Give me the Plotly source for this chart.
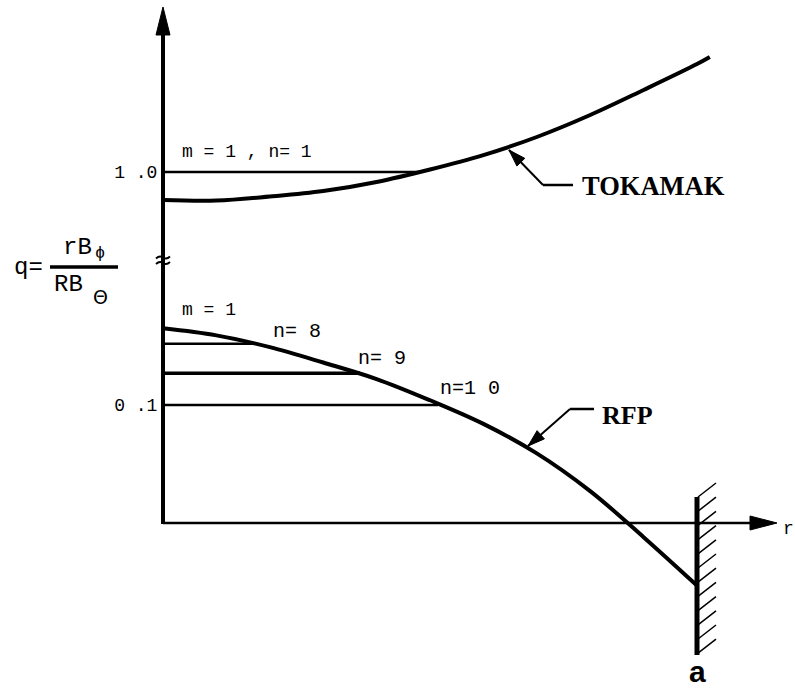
import plotly.graph_objects as go

W, H = 795, 688

# ---------------- data ----------------
# r / a  (wall at r = a = 1)
tok_r = [0.0, 0.1, 0.2, 0.3, 0.4, 0.5, 0.6, 0.7, 0.8, 0.9, 1.0, 1.024]
tok_q = [0.800, 0.796, 0.825, 0.864, 0.929, 1.018, 1.121, 1.250, 1.407, 1.586, 1.771, 1.821]

rfp_r = [0.0, 0.1, 0.2, 0.3, 0.4, 0.5, 0.6, 0.7, 0.8, 0.9, 1.0]
rfp_q = [0.165, 0.159, 0.149, 0.136, 0.122, 0.104, 0.084, 0.059, 0.027, -0.012, -0.053]

tok_res_label = "m = 1 , n= 1"
tok_res_q = 1.0
tok_res_r = 0.481

rfp_m_label = "m = 1"
rfp_res_labels = ["n= 8", "n= 9", "n=1 0"]
rfp_res_q = [0.152, 0.127, 0.100]
rfp_res_r = [0.176, 0.369, 0.515]

upper_tick_vals = [1.0]
upper_tick_text = ["1 .0"]
lower_tick_vals = [0.1]
lower_tick_text = ["0 .1"]

# ---------------- geometry of the drawing ----------------
X0, XA = 163, 697          # pixel of r=0 and r=a
QL0, QL_S = 523, 1180      # lower part: pixel of q=0, px per unit q
QU1, QU_S = 172, 140       # upper part: pixel of q=1, px per unit q
BREAK = 262                # pixel row of the axis break

sx = XA - X0
x_range = [-X0 / sx, (W - X0) / sx]
yl_range = [(QL0 - H) / QL_S, (QL0 - BREAK) / QL_S]
yu_range = [1 + (QU1 - BREAK) / QU_S, 1 + QU1 / QU_S]
brk = 1 - BREAK / H


def px(x):
    return x / W


def py(y):
    return 1 - y / H


def seg(x1, y1, x2, y2, w, color="black"):
    return dict(type="line", xref="paper", yref="paper",
                x0=px(x1), y0=py(y1), x1=px(x2), y1=py(y2),
                line=dict(color=color, width=w), layer="above")


def tri(tip, tail, L, hw):
    tx, ty = tip
    bx, by = tail
    d = ((bx - tx) ** 2 + (by - ty) ** 2) ** 0.5
    ux, uy = (bx - tx) / d, (by - ty) / d
    nx, ny = -uy, ux
    cx, cy = tx + L * ux, ty + L * uy
    pts = [(tx, ty), (cx + hw * nx, cy + hw * ny), (cx - hw * nx, cy - hw * ny)]
    path = "M " + " L ".join(f"{px(a):.5f},{py(b):.5f}" for a, b in pts) + " Z"
    return dict(type="path", xref="paper", yref="paper", path=path,
                fillcolor="black", line=dict(color="black", width=1), layer="above")


fig = go.Figure()

# curves
fig.add_trace(go.Scatter(x=tok_r, y=tok_q, xaxis="x", yaxis="y2", mode="lines",
                         line=dict(color="black", width=4, shape="spline", smoothing=1.0),
                         hoverinfo="skip", showlegend=False))
fig.add_trace(go.Scatter(x=rfp_r, y=rfp_q, xaxis="x", yaxis="y", mode="lines",
                         line=dict(color="black", width=4, shape="spline", smoothing=1.0),
                         hoverinfo="skip", showlegend=False))

# resonant surfaces
fig.add_trace(go.Scatter(x=[0, tok_res_r], y=[tok_res_q, tok_res_q], xaxis="x", yaxis="y2",
                         mode="lines", line=dict(color="black", width=2.5),
                         hoverinfo="skip", showlegend=False))
res_w = [2.5, 3.5, 2.5]
for q, r, w in zip(rfp_res_q, rfp_res_r, res_w):
    fig.add_trace(go.Scatter(x=[0, r], y=[q, q], xaxis="x", yaxis="y",
                             mode="lines", line=dict(color="black", width=w),
                             hoverinfo="skip", showlegend=False))

mono = "Liberation Mono, Courier New, monospace"
ann = []
ann.append(dict(x=0, y=tok_res_q, xref="x", yref="y2", text=tok_res_label, showarrow=False,
                xanchor="left", yanchor="middle", xshift=17, yshift=20,
                font=dict(family=mono, size=18, color="black")))
ann.append(dict(x=0, y=rfp_q[0], xref="x", yref="y", text=rfp_m_label, showarrow=False,
                xanchor="left", yanchor="middle", xshift=17, yshift=18,
                font=dict(family=mono, size=18, color="black")))
shifts = [(14, 12), (-4, 15), (0, 17)]
for lab, q, r, (xs, ys) in zip(rfp_res_labels, rfp_res_q, rfp_res_r, shifts):
    ann.append(dict(x=r, y=q, xref="x", yref="y", text=lab, showarrow=False,
                    xanchor="left", yanchor="middle", xshift=xs, yshift=ys,
                    font=dict(family=mono, size=20, color="black")))

serif_b = "Liberation Serif, Times New Roman, serif"
ann.append(dict(x=px(580), y=py(186), xref="paper", yref="paper", text="<b>TOKAMAK</b>",
                showarrow=False, xanchor="left", yanchor="middle",
                font=dict(family=serif_b, size=26.5, color="black")))
ann.append(dict(x=px(600), y=py(415), xref="paper", yref="paper", text="<b>RFP</b>",
                showarrow=False, xanchor="left", yanchor="middle",
                font=dict(family=serif_b, size=26, color="black")))
ann.append(dict(x=px(697), y=py(671), xref="paper", yref="paper", text="<b>a</b>",
                showarrow=False, xanchor="center", yanchor="middle",
                font=dict(family="Liberation Sans, Arial, sans-serif", size=30, color="black")))
ann.append(dict(x=px(781), y=py(529), xref="paper", yref="paper", text="r",
                showarrow=False, xanchor="left", yanchor="middle",
                font=dict(family=mono, size=18, color="black")))

# q = rB_phi / RB_theta
ann.append(dict(x=px(28), y=py(267), xref="paper", yref="paper", text="q=",
                showarrow=False, xanchor="center", yanchor="middle",
                font=dict(family=mono, size=24, color="black")))
ann.append(dict(x=px(77), y=py(248), xref="paper", yref="paper", text="rB",
                showarrow=False, xanchor="center", yanchor="middle",
                font=dict(family=mono, size=24, color="black")))
ann.append(dict(x=px(100), y=py(253), xref="paper", yref="paper", text="ϕ",
                showarrow=False, xanchor="center", yanchor="middle",
                font=dict(family=mono, size=17, color="black")))
ann.append(dict(x=px(68), y=py(284), xref="paper", yref="paper", text="RB",
                showarrow=False, xanchor="center", yanchor="middle",
                font=dict(family=mono, size=24, color="black")))
ann.append(dict(x=px(100), y=py(297), xref="paper", yref="paper", text="Θ",
                showarrow=False, xanchor="center", yanchor="middle",
                font=dict(family="DejaVu Sans, sans-serif", size=19, color="black")))

shapes = []
# fraction bar
shapes.append(seg(50, 267, 118, 267, 3.5))
# y axis (with arrow)
shapes.append(seg(X0, QL0 + 1, X0, 30, 4))
shapes.append(tri((X0, 7), (X0, 40), 28, 7))
# axis break mark
for yy in (257.5, 263):
    path = (f"M {px(156):.5f},{py(yy + 1):.5f} Q {px(159.5):.5f},{py(yy - 2.5):.5f} "
            f"{px(163):.5f},{py(yy):.5f} T {px(170):.5f},{py(yy - 1):.5f}")
    shapes.append(dict(type="path", xref="paper", yref="paper", path=path,
                       line=dict(color="black", width=1.8), layer="above"))
# x axis (with arrow)
shapes.append(seg(X0, QL0, 755, QL0, 2.5))
shapes.append(tri((777, QL0), (740, QL0), 27, 7))
# wall with hatching
shapes.append(seg(XA, 497, XA, 655, 5))
for i in range(12):
    y0 = 497 + 14.2 * i
    shapes.append(seg(XA + 1, y0, XA + 19, y0 - 14, 1.5))
# leaders
shapes.append(seg(509, 150, 543, 185, 2))
shapes.append(seg(543, 185, 573, 185, 2.5))
shapes.append(tri((509, 150), (543, 185), 17, 5.5))
shapes.append(seg(528, 446, 570, 409, 2))
shapes.append(seg(570, 409, 594, 409, 2.5))
shapes.append(tri((528, 446), (570, 409), 17, 5.5))

fig.update_layout(
    width=W, height=H, margin=dict(l=0, r=0, t=0, b=0),
    paper_bgcolor="white", plot_bgcolor="white", showlegend=False,
    xaxis=dict(range=x_range, visible=False, domain=[0, 1], fixedrange=True),
    yaxis=dict(range=yl_range, domain=[0, brk], anchor="free", position=X0 / W,
               showline=False, showgrid=False, zeroline=False,
               tickvals=lower_tick_vals, ticktext=lower_tick_text,
               ticks="outside", ticklen=2, tickcolor="rgba(0,0,0,0)",
               tickfont=dict(family=mono, size=18, color="black")),
    yaxis2=dict(range=yu_range, domain=[brk, 1], anchor="free", position=X0 / W,
                showline=False, showgrid=False, zeroline=False,
                tickvals=upper_tick_vals, ticktext=upper_tick_text,
                ticks="outside", ticklen=2, tickcolor="rgba(0,0,0,0)",
                tickfont=dict(family=mono, size=18, color="black")),
    annotations=ann, shapes=shapes,
)

fig.write_html("out.html")
